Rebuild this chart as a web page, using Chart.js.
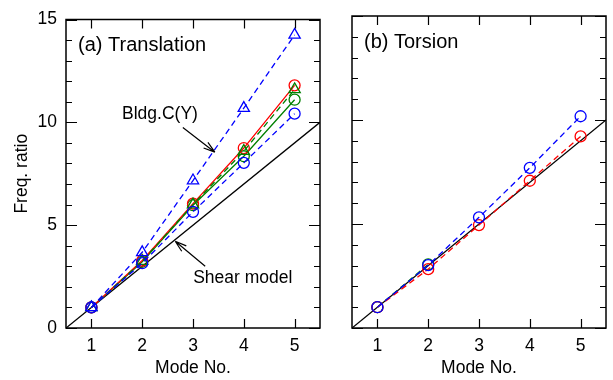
<!DOCTYPE html>
<html lang="en">
<head>
  <meta charset="UTF-8" />
  <title>Freq. ratio vs Mode No.</title>
  <script src="https://cdn.jsdelivr.net/npm/chart.js"></script>
  <style>
    html, body { margin: 0; padding: 0; background: #fff; }
    #wrap { position: relative; width: 613px; height: 380px; }
    #leftBox { position: absolute; left: 0; top: 0; width: 330px; height: 380px; }
    #rightBox { position: absolute; left: 330px; top: 0; width: 283px; height: 380px; }
  </style>
</head>
<body>
  <div id="wrap">
    <div id="leftBox"><canvas id="transChart" width="330" height="380"></canvas></div>
    <div id="rightBox"><canvas id="torsChart" width="283" height="380"></canvas></div>
  </div>

  <script>
    // data
    const modes = [1, 2, 3, 4, 5];
    const xTicks = [1, 2, 3, 4, 5];
    const yLabels = [0, 5, 10, 15];
    const yMinor = [1, 2, 3, 4, 6, 7, 8, 9, 11, 12, 13, 14];

    const transRedCircle = [1.0, 3.28, 6.05, 8.75, 11.8];
    const transGreenTri = [1.0, 3.25, 6.0, 8.6, 11.6];
    const transGreenCircle = [1.0, 3.22, 5.97, 8.35, 11.1];
    const transBlueCircle = [1.0, 3.15, 5.65, 8.03, 10.42];
    const transBlueTri = [1.0, 3.68, 7.17, 10.69, 14.25];

    const torsBlueCircle = [1.0, 3.02, 5.32, 7.7, 10.18];
    const torsRedCircle = [1.0, 2.83, 4.95, 7.08, 9.21];
    const torsGreenCircle = [1.0, 3.06, null, null, null];

    const shearX = [0.5, 5.5];
    const shearY = [0, 10];

    const FONT = 'Liberation Sans, Arial, sans-serif';
    const RED = '#ff0000', GREEN = '#008000', BLUE = '#0000ff';

    function pts(ys) {
      return modes.map((m, i) => ({ x: m, y: ys[i] }));
    }

    function series(ys, color, shape, dashed) {
      return {
        data: pts(ys),
        borderColor: color,
        backgroundColor: 'rgba(0,0,0,0)',
        pointBorderColor: color,
        pointBackgroundColor: 'rgba(0,0,0,0)',
        pointStyle: shape,
        pointRadius: shape === 'triangle' ? 6.5 : 5.5,
        pointBorderWidth: 1.3,
        borderWidth: 1.3,
        borderDash: dashed ? [6, 4] : [],
        spanGaps: false,
        tension: 0
      };
    }

    function shearLine() {
      return {
        data: shearX.map((x, i) => ({ x: x, y: shearY[i] })),
        borderColor: '#000',
        borderWidth: 1.3,
        pointRadius: 0,
        tension: 0
      };
    }

    // frame + inward tick marks on all four sides
    const framePlugin = {
      id: 'frame',
      afterDatasetsDraw(chart) {
        const ctx = chart.ctx;
        const a = chart.chartArea;
        const xs = chart.scales.x, ys = chart.scales.y;
        ctx.save();
        ctx.strokeStyle = '#000';
        ctx.lineWidth = 1.5;
        ctx.strokeRect(a.left, a.top, a.right - a.left, a.bottom - a.top);
        ctx.lineWidth = 1.2;
        ctx.beginPath();
        xTicks.forEach(v => {
          const px = Math.round(xs.getPixelForValue(v)) + 0.5;
          ctx.moveTo(px, a.bottom); ctx.lineTo(px, a.bottom - 9);
          ctx.moveTo(px, a.top); ctx.lineTo(px, a.top + 9);
        });
        yLabels.concat(yMinor).forEach(v => {
          const len = yLabels.includes(v) ? 11 : 6;
          const py = Math.round(ys.getPixelForValue(v)) + 0.5;
          ctx.moveTo(a.left, py); ctx.lineTo(a.left + len, py);
          ctx.moveTo(a.right, py); ctx.lineTo(a.right - len, py);
        });
        ctx.stroke();
        ctx.restore();
      }
    };

    // panel captions and arrow notes, placed in data units
    function notesPlugin(title, notes) {
      return {
        id: 'notes',
        afterDatasetsDraw(chart) {
          const ctx = chart.ctx;
          const a = chart.chartArea;
          const xs = chart.scales.x, ys = chart.scales.y;
          ctx.save();
          ctx.fillStyle = '#000';
          ctx.font = '20px ' + FONT;
          ctx.textBaseline = 'middle';
          ctx.textAlign = 'left';
          ctx.fillText(title, a.left + 12, a.top + 26);
          ctx.font = '17.5px ' + FONT;
          ctx.textAlign = 'center';
          notes.forEach(n => {
            ctx.fillText(n.text, xs.getPixelForValue(n.tx), ys.getPixelForValue(n.ty));
            const x0 = xs.getPixelForValue(n.from[0]), y0 = ys.getPixelForValue(n.from[1]);
            const x1 = xs.getPixelForValue(n.to[0]), y1 = ys.getPixelForValue(n.to[1]);
            const ang = Math.atan2(y1 - y0, x1 - x0);
            ctx.strokeStyle = '#000';
            ctx.lineWidth = 1.2;
            ctx.beginPath();
            ctx.moveTo(x0, y0); ctx.lineTo(x1, y1);
            ctx.moveTo(x1, y1);
            ctx.lineTo(x1 - 12 * Math.cos(ang - 0.3), y1 - 12 * Math.sin(ang - 0.3));
            ctx.moveTo(x1, y1);
            ctx.lineTo(x1 - 12 * Math.cos(ang + 0.3), y1 - 12 * Math.sin(ang + 0.3));
            ctx.stroke();
          });
          ctx.restore();
        }
      };
    }

    function makeOptions(showY, yWidth, padRight) {
      return {
        responsive: false,
        animation: false,
        layout: { padding: { top: 16, right: padRight, bottom: 0, left: 0 } },
        plugins: { legend: { display: false }, tooltip: { enabled: false } },
        scales: {
          x: {
            type: 'linear',
            min: 0.5,
            max: 5.5,
            afterBuildTicks: s => { s.ticks = xTicks.map(v => ({ value: v })); },
            afterFit: s => { s.height = 52; },
            grid: { display: false, drawTicks: false },
            border: { display: false },
            ticks: { color: '#000', padding: 8, font: { family: FONT, size: 17.5 } },
            title: {
              display: true, text: 'Mode No.', color: '#000',
              font: { family: FONT, size: 17.5 }, padding: { top: 0, bottom: 1 }
            }
          },
          y: {
            type: 'linear',
            min: 0,
            max: 15,
            afterBuildTicks: s => { s.ticks = yLabels.map(v => ({ value: v })); },
            afterFit: s => { s.width = yWidth; },
            grid: { display: false, drawTicks: false },
            border: { display: false },
            ticks: { display: showY, color: '#000', padding: 9, font: { family: FONT, size: 17.5 } },
            title: {
              display: showY, text: 'Freq. ratio', color: '#000',
              font: { family: FONT, size: 17.5 }, padding: { top: 12, bottom: 0 }
            }
          }
        }
      };
    }

    // index 0 is drawn on top
    new Chart(document.getElementById('transChart'), {
      type: 'line',
      data: {
        datasets: [
          series(transBlueTri, BLUE, 'triangle', true),
          series(transBlueCircle, BLUE, 'circle', true),
          series(transGreenTri, GREEN, 'triangle', true),
          series(transRedCircle, RED, 'circle', false),
          series(transGreenCircle, GREEN, 'circle', false),
          shearLine()
        ]
      },
      options: makeOptions(true, 66, 10),
      plugins: [framePlugin, notesPlugin('(a) Translation', [
        { text: 'Bldg.C(Y)', tx: 2.35, ty: 10.4, from: [2.8, 9.75], to: [3.43, 8.55] },
        { text: 'Shear model', tx: 3.98, ty: 2.4, from: [3.24, 3.0], to: [2.65, 4.22] }
      ])]
    });

    new Chart(document.getElementById('torsChart'), {
      type: 'line',
      data: {
        datasets: [
          series(torsBlueCircle, BLUE, 'circle', true),
          series(torsRedCircle, RED, 'circle', true),
          series(torsGreenCircle, GREEN, 'circle', true),
          shearLine()
        ]
      },
      options: makeOptions(false, 22, 7),
      plugins: [framePlugin, notesPlugin('(b) Torsion', [])]
    });
  </script>
</body>
</html>
